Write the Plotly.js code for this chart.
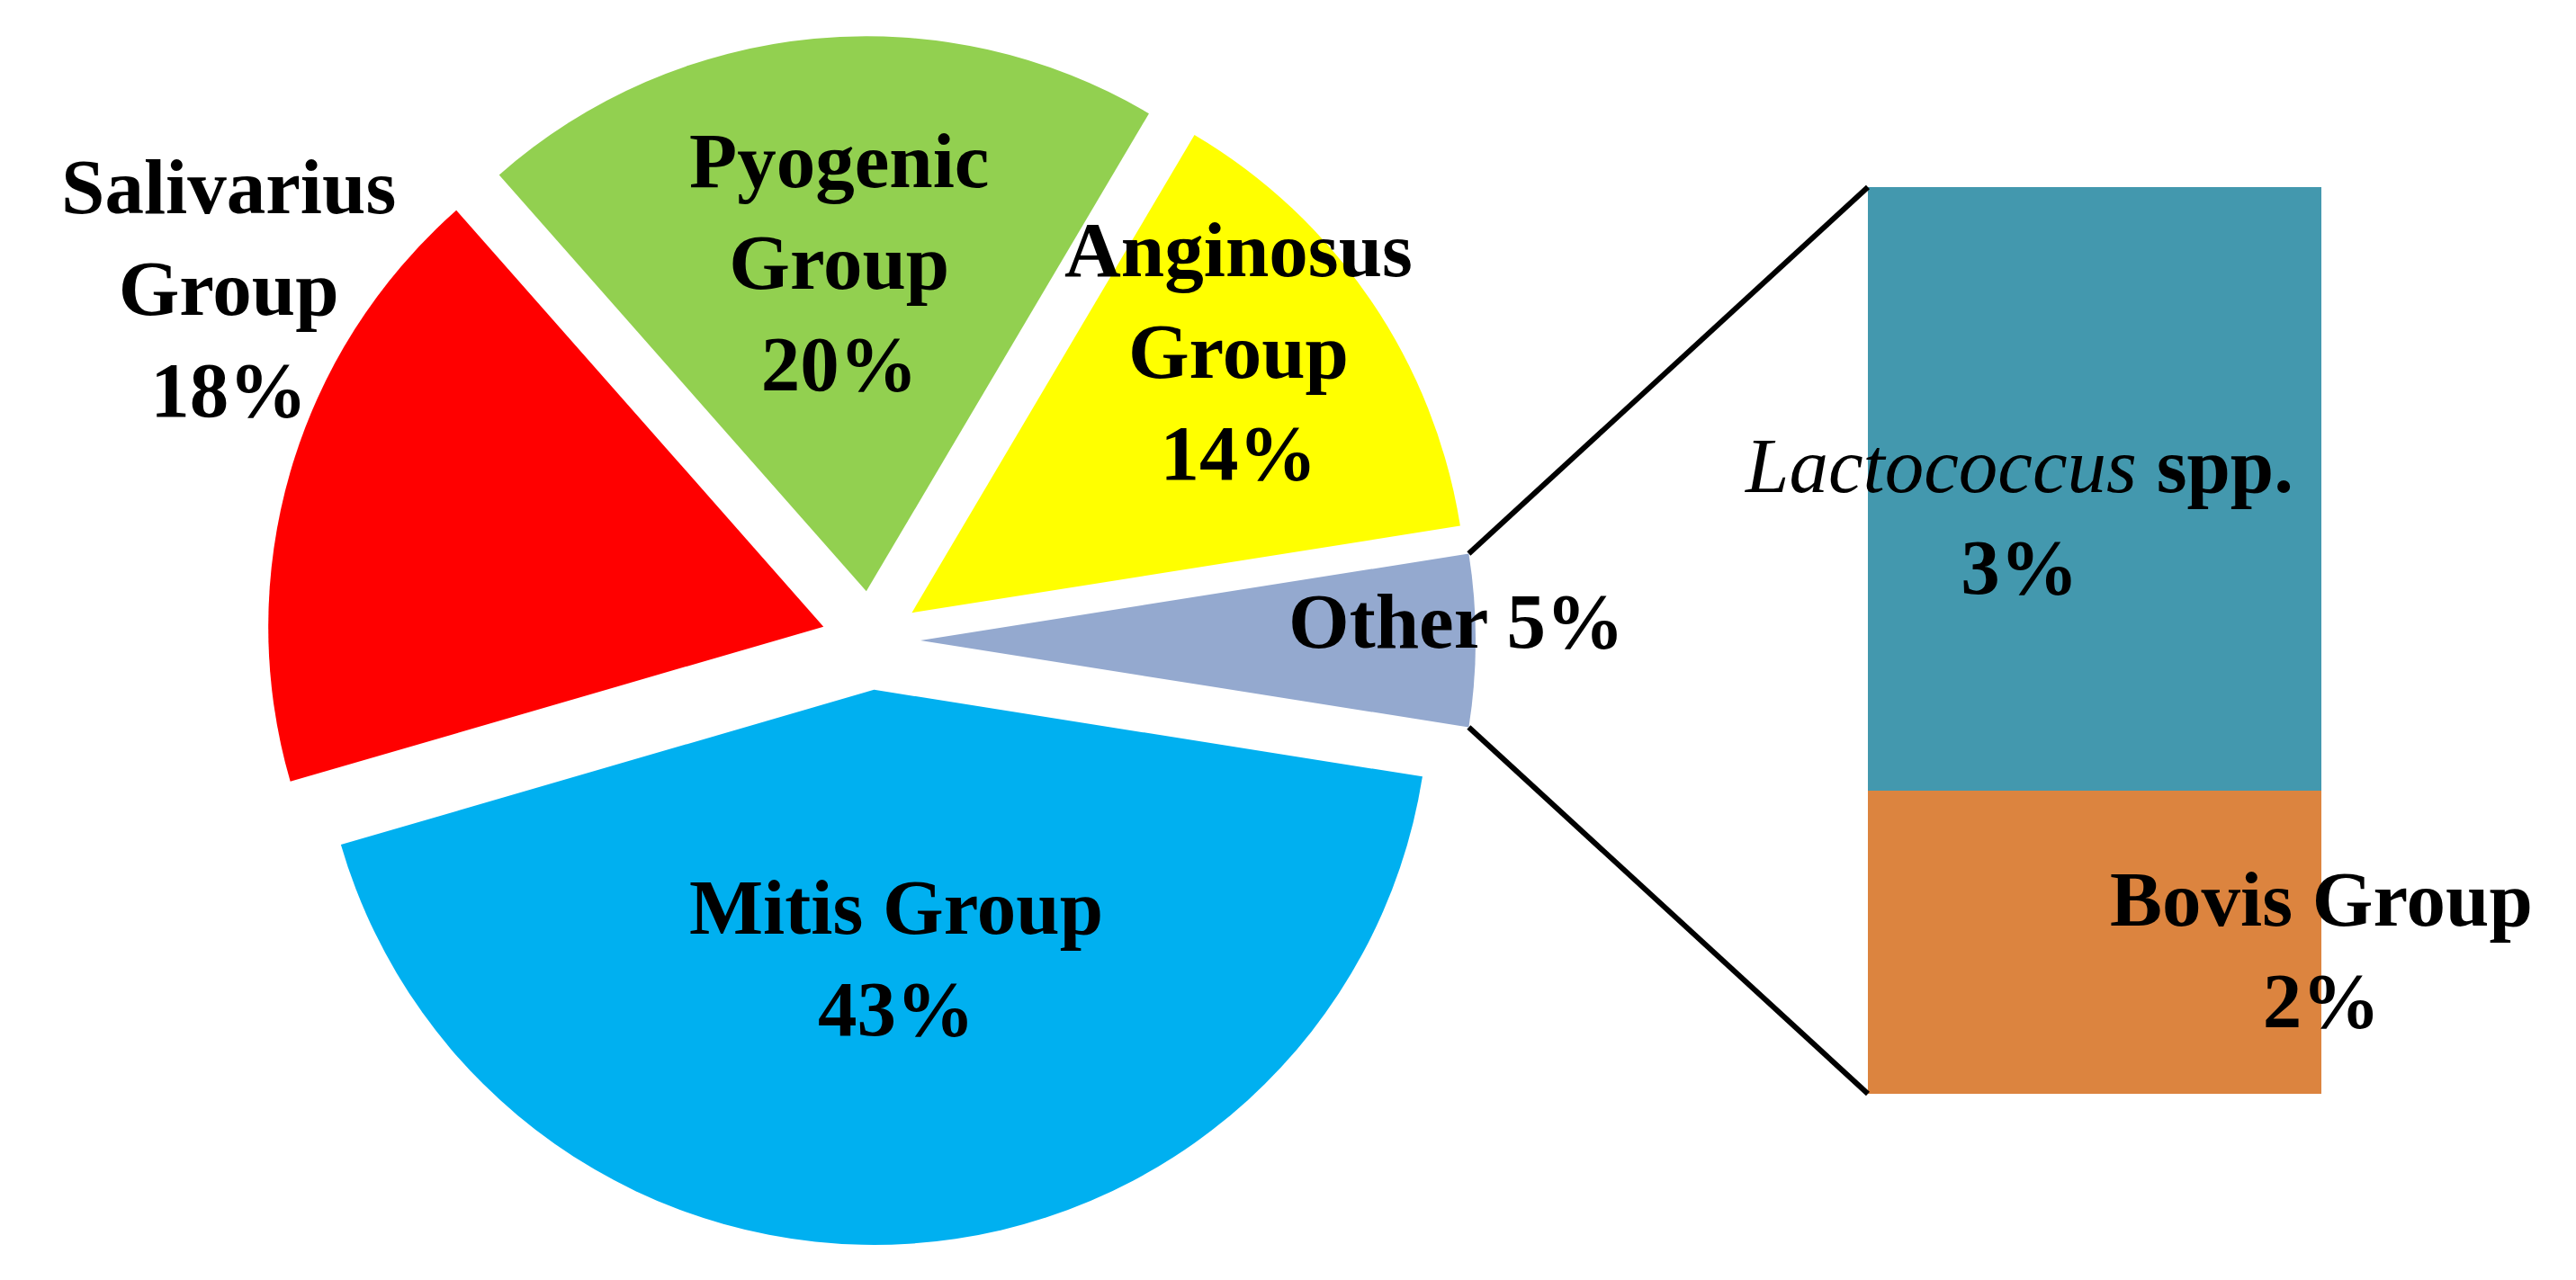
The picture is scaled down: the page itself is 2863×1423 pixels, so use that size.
<!DOCTYPE html>
<html>
<head>
<meta charset="utf-8">
<script src="https://cdn.plot.ly/plotly-3.0.1.min.js"></script>
<style>
  html, body { margin: 0; padding: 0; background: #ffffff; }
  #chart { width: 2863px; height: 1423px; }
</style>
</head>
<body>
<div id="chart"></div>
<script>
// ---- data ----
const pieLabels = ['Other', 'Mitis Group', 'Salivarius Group', 'Pyogenic Group', 'Anginosus Group'];
const pieValues = [5, 43, 18, 20, 14];
const pieColors = ['#94A9CF', '#00B0F0', '#FF0000', '#92D050', '#FFFF00'];
const pieLabelLines = ['Other', 'Mitis Group', 'Salivarius<br>Group', 'Pyogenic<br>Group', 'Anginosus<br>Group'];

const barLabels = ['Bovis Group', 'Lactococcus spp.'];
const barValues = [1.67, 3.33];
const barPercent = ['2%', '3%'];
const barColors = ['#DC843F', '#4398AE'];
const barLabelHtml = ['Bovis Group', '<span style="font-weight:normal"><i>Lactococcus</i></span> spp.'];

// ---- layout constants ----
const W = 2863, H = 1423;
const PULL = 0.089;
const pieDomX = [296 / W, 1640 / W];
const pieDomY = [1 - 1384 / H, 1 - 40 / H];
const barDomX = [2076 / W, 2580 / W];
const barDomY = [1 - 1216 / H, 1 - 208 / H];

const FONT = {family: '"Liberation Serif", "Times New Roman", serif', size: 87, color: '#000000', weight: 'bold'};

const pieTrace = {
  type: 'pie',
  labels: pieLabels,
  values: pieValues,
  sort: false,
  direction: 'clockwise',
  rotation: 90 - (pieValues[0] / pieValues.reduce((a, b) => a + b, 0)) * 180,
  pull: pieValues.map(() => PULL),
  marker: {colors: pieColors, line: {width: 0}},
  textinfo: 'none',
  hoverinfo: 'label+percent',
  domain: {x: pieDomX, y: pieDomY},
  showlegend: false
};

const barTraces = barLabels.map((lab, i) => ({
  type: 'bar',
  name: lab,
  x: [0],
  y: [barValues[i]],
  width: [1],
  marker: {color: barColors[i], line: {width: 0}},
  hoverinfo: 'name+y',
  showlegend: false,
  xaxis: 'x',
  yaxis: 'y'
}));

// ---- label positions (px in the picture) ----
function xp(px) { return px / W; }
function yp(py) { return 1 - py / H; }

const pieLabelPos = [
  [1618, 691],   // Other
  [996, 1065],   // Mitis
  [254, 321],    // Salivarius
  [932, 292],    // Pyogenic
  [1376, 390]    // Anginosus
];
const barLabelPos = [
  [2580, 1056],  // Bovis
  [2243, 574]    // Lactococcus
];

const annotations = [];
pieLabels.forEach((lab, i) => {
  const sep = (i === 0) ? ' ' : '<br>';
  annotations.push({
    xref: 'paper', yref: 'paper',
    x: xp(pieLabelPos[i][0]), y: yp(pieLabelPos[i][1]),
    xanchor: 'center', yanchor: 'middle', align: 'center',
    showarrow: false,
    text: pieLabelLines[i] + sep + pieValues[i] + '%',
    font: FONT
  });
});
barLabels.forEach((lab, i) => {
  annotations.push({
    xref: 'paper', yref: 'paper',
    x: xp(barLabelPos[i][0]), y: yp(barLabelPos[i][1]),
    xanchor: 'center', yanchor: 'middle', align: 'center',
    showarrow: false,
    text: barLabelHtml[i] + '<br>' + barPercent[i],
    font: FONT
  });
});

// ---- connector lines from the "Other" slice to the bar ----
const total = pieValues.reduce((a, b) => a + b, 0);
const half = (pieValues[0] / total) * Math.PI; // half angle of Other slice
const dw = (pieDomX[1] - pieDomX[0]) * W, dh = (pieDomY[1] - pieDomY[0]) * H;
const r = Math.min(dw, dh) / (2 * (1 + PULL));
const cxPx = (pieDomX[0] + pieDomX[1]) / 2 * W + PULL * r;
const cyPx = (1 - (pieDomY[0] + pieDomY[1]) / 2) * H;
const topCorner = [cxPx + r * Math.cos(half), cyPx - r * Math.sin(half)];
const botCorner = [cxPx + r * Math.cos(half), cyPx + r * Math.sin(half)];

const shapes = [
  {type: 'line', xref: 'paper', yref: 'paper',
   x0: xp(topCorner[0]), y0: yp(topCorner[1]), x1: barDomX[0], y1: barDomY[1],
   line: {color: '#000000', width: 6}},
  {type: 'line', xref: 'paper', yref: 'paper',
   x0: xp(botCorner[0]), y0: yp(botCorner[1]), x1: barDomX[0], y1: barDomY[0],
   line: {color: '#000000', width: 6}}
];

const layout = {
  width: W, height: H,
  margin: {l: 0, r: 0, t: 0, b: 0, pad: 0},
  paper_bgcolor: '#ffffff',
  plot_bgcolor: 'rgba(0,0,0,0)',
  barmode: 'stack',
  bargap: 0,
  showlegend: false,
  xaxis: {domain: barDomX, range: [-0.5, 0.5], visible: false, fixedrange: true},
  yaxis: {domain: barDomY, range: [0, barValues.reduce((a, b) => a + b, 0)], visible: false, fixedrange: true},
  annotations: annotations,
  shapes: shapes
};

Plotly.newPlot('chart', [pieTrace].concat(barTraces), layout, {displayModeBar: false, staticPlot: true});
</script>
</body>
</html>
